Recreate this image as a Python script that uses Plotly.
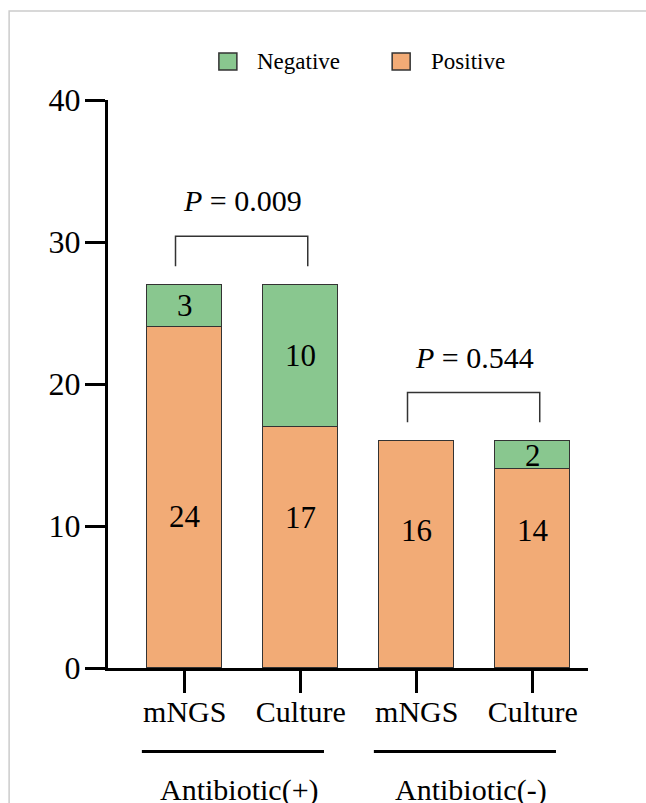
import plotly.graph_objects as go

# ---- data ----
categories = ["mNGS", "Culture", "mNGS", "Culture"]
groups = ["Antibiotic(+)", "Antibiotic(-)"]
positive = [24, 17, 16, 14]
negative = [3, 10, 0, 2]
p_values = ["0.009", "0.544"]
y_ticks = [0, 10, 20, 30, 40]

GREEN = "#89C78F"
ORANGE = "#F2AB76"
EDGE = "#333333"
FONT = "Liberation Serif, Times New Roman, serif"

x = list(range(len(categories)))
totals = [p + n for p, n in zip(positive, negative)]

fig = go.Figure()
fig.add_trace(go.Bar(x=x, y=positive, width=0.65, marker=dict(color=ORANGE, line=dict(color=EDGE, width=1.5)),
                     name="Positive", showlegend=False, hoverinfo="skip"))
fig.add_trace(go.Bar(x=x, y=negative, width=0.65, marker=dict(color=GREEN, line=dict(color=EDGE, width=1.5)),
                     name="Negative", showlegend=False, hoverinfo="skip"))

annotations = []
shapes = []

# value labels (orange labels sit a bit below the segment centre in the original)
pos_label_y = [10.7, 10.6, 9.7, 9.7]
for i in x:
    annotations.append(dict(x=i, y=pos_label_y[i], text=str(positive[i]), showarrow=False,
                            font=dict(size=31, family=FONT, color="black"), xref="x", yref="y"))
    if negative[i] > 0:
        annotations.append(dict(x=i, y=positive[i] + negative[i] / 2, text=str(negative[i]), showarrow=False,
                                font=dict(size=31, family=FONT, color="black"), xref="x", yref="y"))

# brackets and P values
for g in range(len(groups)):
    i0, i1 = 2 * g, 2 * g + 1
    top = max(totals[i0], totals[i1])
    xl, xr = i0 - 0.08, i1 + 0.06
    yb, yt = top + 1.3, top + 3.4
    shapes.append(dict(type="path", xref="x", yref="y",
                       path=f"M {xl},{yb} L {xl},{yt} L {xr},{yt} L {xr},{yb}",
                       line=dict(color=EDGE, width=1.5)))
    annotations.append(dict(x=(i0 + i1) / 2, y=top + 5.9, text=f"<i>P</i> = {p_values[g]}", showarrow=False,
                            font=dict(size=30, family=FONT, color="black"), xref="x", yref="y"))
    # group underline and label
    shapes.append(dict(type="line", xref="x", yref="paper", x0=i0 - 0.37, x1=i1 + 0.2, y0=-0.147, y1=-0.147,
                       line=dict(color="black", width=3)))
    annotations.append(dict(x=(i0 + i1) / 2 - 0.03, y=-0.214, text=groups[g], showarrow=False,
                            font=dict(size=30, family=FONT, color="black"), xref="x", yref="paper",
                            yanchor="middle"))

# manual legend
leg = [("Negative", GREEN, 0.231), ("Positive", ORANGE, 0.592)]
for name, col, px in leg:
    shapes.append(dict(type="rect", xref="paper", yref="paper", x0=px, x1=px + 0.0375,
                       y0=1.0528, y1=1.0827, fillcolor=col, line=dict(color=EDGE, width=1.5)))
    annotations.append(dict(x=px + 0.076, y=1.068, text=name, showarrow=False, xanchor="left",
                            yanchor="middle",
                            font=dict(size=23, family=FONT, color="black"), xref="paper", yref="paper"))

# light page border
shapes.append(dict(type="rect", xref="paper", yref="paper", x0=-0.206, x1=1.5, y0=-0.5, y1=1.1567,
                   line=dict(color="#cccccc", width=1.5), layer="below"))

fig.update_layout(
    barmode="stack",
    width=646, height=803,
    margin=dict(l=108, r=58, t=100, b=135),
    paper_bgcolor="white", plot_bgcolor="white",
    font=dict(family=FONT, size=30, color="black"),
    shapes=shapes, annotations=annotations,
    bargap=0,
)
fig.update_xaxes(range=[-0.662, 3.476], tickvals=x, ticktext=categories, showgrid=False, zeroline=False,
                 showline=True, linecolor="black", linewidth=3, ticks="outside", ticklen=22, tickwidth=2.5,
                 tickcolor="black", tickfont=dict(size=30, family=FONT, color="black"),
                 ticklabelstandoff=-7)
fig.update_yaxes(range=[0, 40], tickvals=y_ticks, showgrid=False, zeroline=False,
                 showline=True, linecolor="black", linewidth=3, ticks="outside", ticklen=20, tickwidth=2.5,
                 tickcolor="black", tickfont=dict(size=32, family=FONT, color="black"),
                 ticklabelstandoff=-2)

fig.write_html("out.html")
